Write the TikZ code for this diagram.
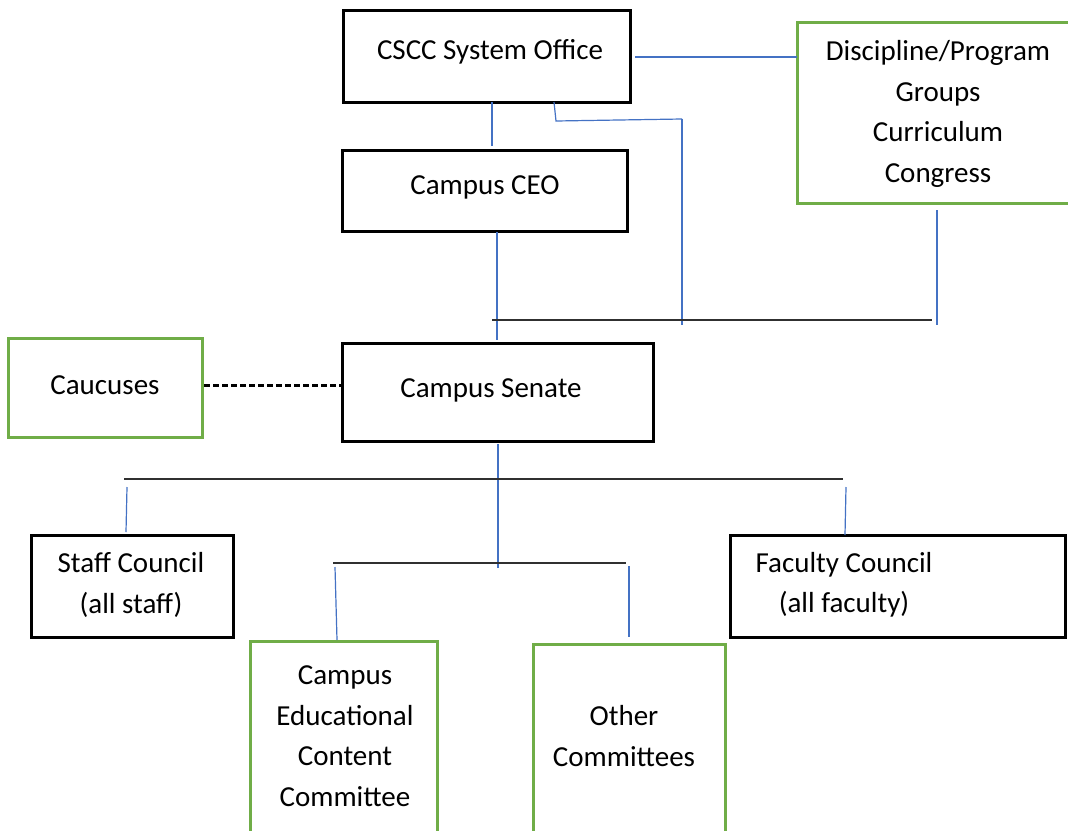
\documentclass[tikz,border=0pt]{standalone}
\usepackage{fontspec}
\setmainfont{Carlito}
\definecolor{lineblue}{HTML}{4472C4}
\definecolor{boxgreen}{HTML}{70AD47}
\definecolor{rulegray}{HTML}{303030}
\begin{document}
\begin{tikzpicture}[x=1pt,y=-1pt,
  every node/.style={inner sep=0pt,outer sep=0pt},
  txt/.style={align=center,font=\fontsize{29}{40.5}\selectfont},
  blackbox/.style={draw=black,line width=3pt,fill=white},
  greenbox/.style={draw=boxgreen,line width=3pt,fill=white},
  link/.style={draw=lineblue,line width=1.2pt},
  rule/.style={draw=rulegray,line width=2pt},
  dashlink/.style={draw=black,line width=3pt,dash pattern=on 6pt off 3pt}]
\useasboundingbox (0,0) rectangle (1068,830);
\clip (0,0) rectangle (1068,830);

% boxes
\node[blackbox,minimum width=287pt,minimum height=92pt] (cscc) at (486.5,56) {};
\node[txt] at (490,52) {CSCC System Office};
\node[blackbox,minimum width=285pt,minimum height=81pt] (ceo) at (484.5,190.5) {};
\node[txt] at (485,187) {Campus CEO};
\node[greenbox,minimum width=290pt,minimum height=181pt] (disc) at (942,112.5) {};
\node[txt] at (938,114) {Discipline/Program\\Groups\\Curriculum\\Congress};
\node[greenbox,minimum width=194pt,minimum height=99pt] (cauc) at (105,387.5) {};
\node[txt] at (105,385) {Caucuses};
\node[blackbox,minimum width=311pt,minimum height=98pt] (senate) at (497.5,392) {};
\node[txt] at (491,390) {Campus Senate};
\node[blackbox,minimum width=202pt,minimum height=102pt] (staff) at (132,586) {};
\node[txt] at (131,585) {Staff Council\\(all staff)};
\node[blackbox,minimum width=335pt,minimum height=102pt] (faculty) at (897.5,586) {};
\node[txt] at (844,585) {Faculty Council\\(all faculty)};
\node[greenbox,minimum width=187pt,minimum height=230pt] (cecc) at (343.5,756) {};
\node[txt] at (345,736) {Campus\\Educational\\Content\\Committee};
\node[greenbox,minimum width=192pt,minimum height=230pt] (other) at (629,759) {};
\node[txt] at (624,736) {Other\\Committees};

% helper coordinates
\coordinate (j1) at (554,102);
\coordinate (j2) at (556,121);
\coordinate (j3) at (682,119);
\coordinate (j4) at (682,325);
\coordinate (d1) at (937,210);
\coordinate (d2) at (937,325);
\coordinate (r1a) at (492,320);
\coordinate (r1b) at (932,320);
\coordinate (r2a) at (124,479);
\coordinate (r2b) at (843,479);
\coordinate (r3a) at (333,563);
\coordinate (r3b) at (626,563);
\coordinate (s1) at (498,444);
\coordinate (s2) at (498,568);
\coordinate (l1) at (127,487);
\coordinate (l2) at (126,532);
\coordinate (f1) at (846,487);
\coordinate (f2) at (845,535);
\coordinate (c1) at (335,567);
\coordinate (c2) at (337,640);
\coordinate (o1) at (629,566);
\coordinate (o2) at (629,637);

% connectors
\draw[link] (cscc.east |- 0,57) ++(5,0) -- (disc.west |- 0,57);
\draw[link] (492,102) -- (492,146);
\draw[link] (j1) -- (j2) -- (j3);
\draw[link] (j3) -- (j4);
\draw[link] (497,232) -- (497,340);
\draw[link] (d1) -- (d2);
\draw[rule] (r1a) -- (r1b);
\draw[dashlink] (cauc.east |- 0,385) ++(2,0) -- (senate.west |- 0,385);
\draw[link] (s1) -- (s2);
\draw[rule] (r2a) -- (r2b);
\draw[link] (l1) -- (l2);
\draw[link] (f1) -- (f2);
\draw[rule] (r3a) -- (r3b);
\draw[link] (c1) -- (c2);
\draw[link] (o1) -- (o2);
\end{tikzpicture}
\end{document}
